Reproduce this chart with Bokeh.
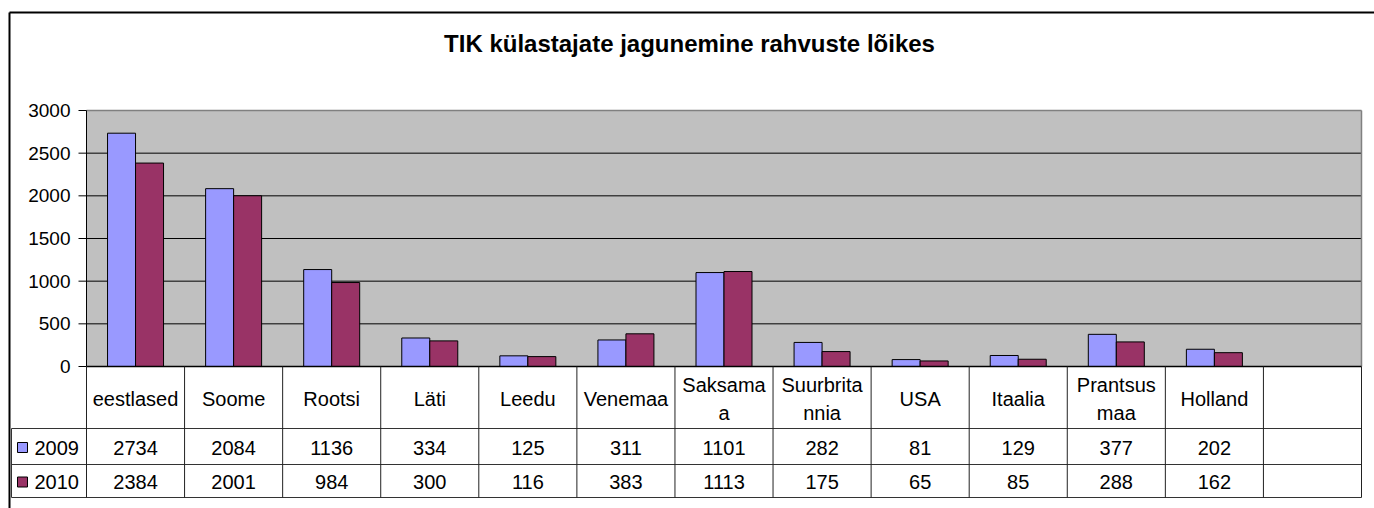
from bokeh.plotting import figure
from bokeh.models import Range1d
from bokeh.core.properties import value
from bokeh.embed import file_html
from bokeh.resources import INLINE
import numpy as np

# ---------------- data ----------------
title_text = "TIK külastajate jagunemine rahvuste lõikes"
categories = ["eestlased", "Soome", "Rootsi", "Läti", "Leedu", "Venemaa",
              "Saksamaa", "Suurbritannia", "USA", "Itaalia", "Prantsusmaa", "Holland"]
category_labels = ["eestlased", "Soome", "Rootsi", "Läti", "Leedu", "Venemaa",
                   "Saksama\na", "Suurbrita\nnnia", "USA", "Itaalia", "Prantsus\nmaa", "Holland"]
series_names = ["2009", "2010"]
values_2009 = [2734, 2084, 1136, 334, 125, 311, 1101, 282, 81, 129, 377, 202]
values_2010 = [2384, 2001, 984, 300, 116, 383, 1113, 175, 65, 85, 288, 162]
y_ticks = [0, 500, 1000, 1500, 2000, 2500, 3000]
y_max = 3000
n_cols = 13  # 12 categories + one empty column in the data table

colors = ["#9999FF", "#993366"]
FONT = value("Liberation Sans")

# ---------------- layout (page pixel coordinates) ----------------
W, H = 1374, 508
PAGE_L, PAGE_T = 0, 0
PLOT_L, PLOT_R = 86, 1361
PLOT_T, ZERO_Y = 110, 366
ROW1_B, ROW2_B, ROW3_B = 428, 464, 497
LEG_L = 11

cw = (PLOT_R - PLOT_L) / n_cols
k = y_max / (ZERO_Y - PLOT_T)

p = figure(width=W, height=H, output_backend="svg", toolbar_location=None,
           x_range=Range1d((PAGE_L - PLOT_L) / cw, (PAGE_L + W - PLOT_L) / cw),
           y_range=Range1d(-(PAGE_T + H - ZERO_Y) * k, (ZERO_Y - PAGE_T) * k),
           x_axis_location=None, y_axis_location=None, min_border=0,
           outline_line_color=None, background_fill_color="white",
           border_fill_color="white")
p.grid.visible = False
p.extra_x_ranges = {"px": Range1d(PAGE_L, PAGE_L + W)}
p.extra_y_ranges = {"py": Range1d(PAGE_T + H, PAGE_T)}

# outer chart border (left and top visible)
p.segment(x0=[9, 9], y0=[12, 12], x1=[9, PAGE_L + W], y1=[PAGE_T + H, 12],
          line_color="black", line_width=2, x_range_name="px", y_range_name="py")

# title
p.text(x=[689], y=[43], text=[title_text], text_font=FONT,
       text_font_size="24px", text_font_style="bold", text_align="center",
       text_baseline="middle", text_color="black", x_range_name="px", y_range_name="py")

# plot area
p.quad(left=[0], right=[n_cols], bottom=[0], top=[y_max], fill_color="#C0C0C0",
       line_color=None)
grid_vals = [t for t in y_ticks if 0 < t < y_max]
p.segment(x0=[0] * len(grid_vals), x1=[n_cols] * len(grid_vals), y0=grid_vals, y1=grid_vals,
          line_color="black", line_width=1)
p.segment(x0=[0, n_cols], y0=[y_max, y_max], x1=[n_cols, n_cols], y1=[y_max, 0],
          line_color="#808080", line_width=1.5)

# bars
w = 28 / cw
idx = np.arange(len(categories)) + 0.5
p.vbar(x=idx - w / 2, width=w, top=values_2009, bottom=0, fill_color=colors[0],
       line_color="black", line_width=1)
p.vbar(x=idx + w / 2, width=w, top=values_2010, bottom=0, fill_color=colors[1],
       line_color="black", line_width=1)

# y axis
p.segment(x0=[0], y0=[0], x1=[0], y1=[y_max], line_color="black", line_width=1)
p.segment(x0=[PLOT_L - 8] * len(y_ticks), x1=[PLOT_L] * len(y_ticks), y0=y_ticks, y1=y_ticks,
          line_color="black", line_width=1, x_range_name="px")
p.text(x=[70] * len(y_ticks), y=y_ticks, text=[str(t) for t in y_ticks], text_font=FONT,
       text_font_size="19px", text_align="right", text_baseline="middle",
       text_color="black", x_range_name="px")

# data table lines
p.segment(x0=[0], y0=[0], x1=[n_cols], y1=[0], line_color="black", line_width=1.5)
hy = [ROW1_B, ROW2_B, ROW3_B]
p.segment(x0=[LEG_L] * 3, x1=[PLOT_R] * 3, y0=hy, y1=hy, line_color="#333333",
          line_width=1, x_range_name="px", y_range_name="py")
p.segment(x0=[LEG_L], x1=[LEG_L], y0=[ROW1_B], y1=[ROW3_B], line_color="#333333",
          line_width=1, x_range_name="px", y_range_name="py")
cols = list(range(n_cols + 1))
p.segment(x0=cols, x1=cols, y0=[ZERO_Y] * len(cols), y1=[ROW3_B] * len(cols),
          line_color="#222222", line_width=1, y_range_name="py")

# category labels
row1_c = (ZERO_Y + ROW1_B) / 2 + 1
lx, ly, lt = [], [], []
for i, lab in enumerate(category_labels):
    lines = lab.split("\n")
    n = len(lines)
    for j, s in enumerate(lines):
        lx.append(i + 0.5)
        ly.append(row1_c + (j - (n - 1) / 2) * 28)
        lt.append(s)
p.text(x=lx, y=ly, text=lt, text_font=FONT, text_font_size="20px", text_align="center",
       text_baseline="middle", text_color="black", y_range_name="py")

# value rows
row_c = [(ROW1_B + ROW2_B) / 2 + 1, (ROW2_B + ROW3_B) / 2 + 1]
for r, vals in enumerate([values_2009, values_2010]):
    p.text(x=list(idx), y=[row_c[r]] * len(vals), text=[str(v) for v in vals], text_font=FONT,
           text_font_size="20px", text_align="center", text_baseline="middle",
           text_color="black", y_range_name="py")
    p.rect(x=[22], y=[row_c[r]], width=10, height=10, fill_color=colors[r],
           line_color="black", line_width=1, x_range_name="px", y_range_name="py")
    p.text(x=[34], y=[row_c[r]], text=[series_names[r]], text_font=FONT,
           text_font_size="20px", text_align="left", text_baseline="middle",
           text_color="black", x_range_name="px", y_range_name="py")

open("out.html", "w").write(file_html(p, INLINE))
